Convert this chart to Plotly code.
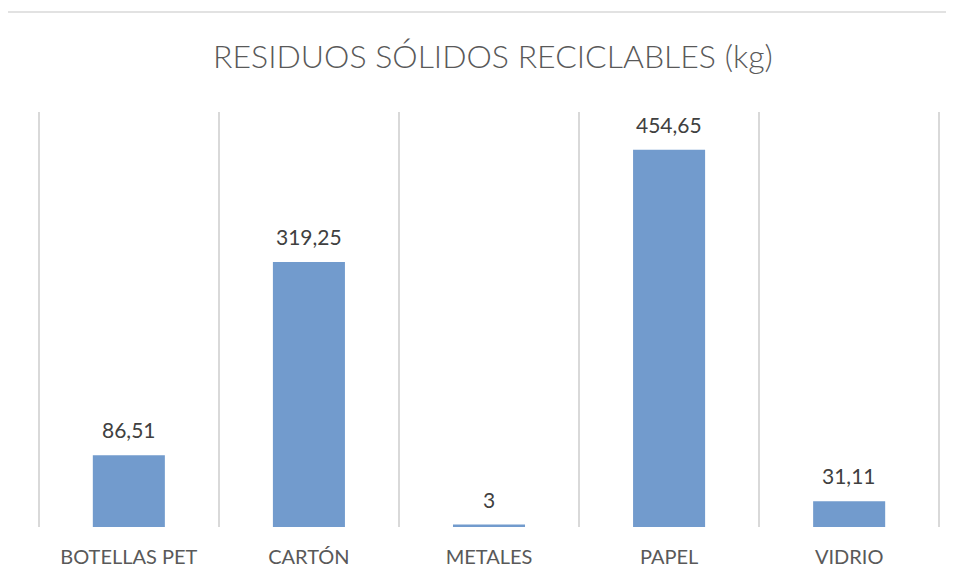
import plotly.graph_objects as go

categories = ["BOTELLAS PET", "CARTÓN", "METALES", "PAPEL", "VIDRIO"]
values = [86.51, 319.25, 3, 454.65, 31.11]
title_text = "RESIDUOS SÓLIDOS RECICLABLES (kg)"

labels = [f"{v:g}".replace(".", ",") for v in values]
FONT = "Lato, Open Sans, sans-serif"

fig = go.Figure(go.Bar(
    x=categories, y=values, width=0.4,
    marker=dict(color="#729bcd", line=dict(width=0)),
    hoverinfo="x+y",
))

annotations = [
    dict(x=c, y=v, text=t, xref="x", yref="y", showarrow=False, yanchor="bottom",
         yshift=11, font=dict(family=FONT, size=21, color="#404040"))
    for c, v, t in zip(categories, values, labels)
]

# page has an 8px body margin, so the figure is sized to fit inside it
fig.update_layout(
    width=946, height=573,
    margin=dict(l=29, r=13, t=104, b=54),
    paper_bgcolor="white", plot_bgcolor="white",
    showlegend=False,
    title=dict(text=title_text, x=0.5126, xanchor="center", y=0.9145, yanchor="middle",
               yref="container",
               font=dict(family="Lato Light, Lato, Open Sans, sans-serif", size=32,
                         color="#595959", weight=300)),
    xaxis=dict(tickson="boundaries", showgrid=True, gridcolor="#d9d9d9", gridwidth=1.5,
               range=[-0.51, 4.51],
               showline=False, ticks="", zeroline=False, ticklabelstandoff=16,
               tickfont=dict(family=FONT, size=20, color="#595959")),
    yaxis=dict(range=[0, 500], visible=False, showgrid=False, zeroline=False),
    annotations=annotations,
    shapes=[dict(type="rect", xref="paper", yref="paper", x0=-0.2, x1=1.2, y0=-0.4, y1=1.241,
                 line=dict(color="#d9d9d9", width=1.5), fillcolor="rgba(0,0,0,0)", layer="below")],
)

fig.write_html("out.html")
